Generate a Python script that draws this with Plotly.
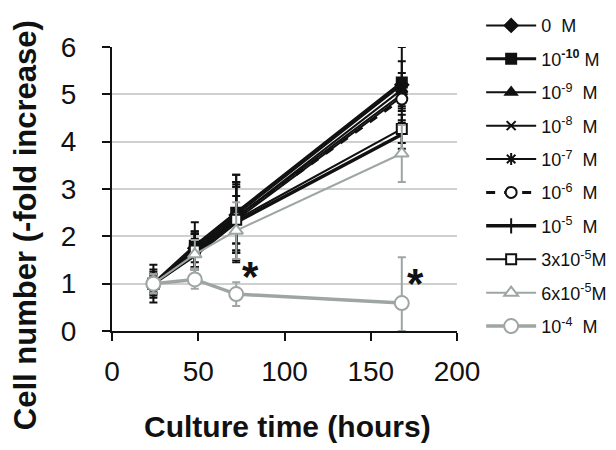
import plotly.graph_objects as go

hours = [24, 48, 72, 168]
names = ["0  M", "10<sup><b>-10</b></sup> M", "10<sup>-9</sup>  M", "10<sup>-8</sup>  M", "10<sup>-7</sup>  M",
         "10<sup>-6</sup>  M", "10<sup>-5</sup>  M", "3x10<sup>-5</sup>M", "6x10<sup>-5</sup>M", "10<sup>-4</sup>  M"]
values = [
    [1.0, 1.75, 2.45, 5.20],
    [1.0, 1.80, 2.50, 5.25],
    [1.0, 1.70, 2.40, 5.10],
    [1.0, 1.65, 2.35, 4.95],
    [1.0, 1.70, 2.40, 5.00],
    [1.0, 1.70, 2.40, 4.90],
    [1.0, 1.60, 2.30, 4.15],
    [1.0, 1.70, 2.35, 4.27],
    [1.0, 1.62, 2.12, 3.75],
    [1.0, 1.09, 0.78, 0.59],
]
errors_up = [
    [0.20, 0.30, 0.60, 0.50],
    [0.25, 0.50, 0.80, 0.75],
    [0.20, 0.35, 0.70, 0.35],
    [0.15, 0.30, 0.50, 0.30],
    [0.20, 0.40, 0.75, 0.30],
    [0.20, 0.35, 0.90, 0.25],
    [0.40, 0.50, 0.85, 0.30],
    [0.30, 0.40, 0.70, 0.30],
    [0.20, 0.30, 0.60, 0.60],
    [0.20, 0.20, 0.25, 0.97],
]
errors_down = [
    [0.20, 0.30, 0.60, 0.30],
    [0.25, 0.50, 0.80, 0.30],
    [0.20, 0.35, 0.70, 0.35],
    [0.15, 0.30, 0.50, 0.30],
    [0.20, 0.40, 0.75, 0.30],
    [0.20, 0.35, 0.90, 0.50],
    [0.40, 0.50, 0.85, 0.30],
    [0.30, 0.40, 0.70, 0.30],
    [0.20, 0.30, 0.60, 0.60],
    [0.20, 0.20, 0.25, 0.59],
]
y_ticks = [0, 1, 2, 3, 4, 5, 6]
x_ticks = [0, 50, 100, 150, 200]
stars = [(80, 1.16), (176, 1.0)]

BLACK = "#111111"
GRAY = "#9ea6a2"
FONT = "Liberation Sans"
styles = [
    dict(symbol="diamond", fill=BLACK, color=BLACK, width=2, dash="solid", size=10),
    dict(symbol="square", fill=BLACK, color=BLACK, width=3, dash="solid", size=10),
    dict(symbol="triangle-up", fill=BLACK, color=BLACK, width=2, dash="solid", size=10),
    dict(symbol="x-thin-open", fill=BLACK, color=BLACK, width=2, dash="solid", size=9),
    dict(symbol="asterisk-open", fill=BLACK, color=BLACK, width=2, dash="solid", size=10),
    dict(symbol="circle", fill="white", color=BLACK, width=3, dash="dash", size=11),
    dict(symbol="line-ns-open", fill=BLACK, color=BLACK, width=3.5, dash="solid", size=11),
    dict(symbol="square", fill="white", color=BLACK, width=2, dash="solid", size=10),
    dict(symbol="triangle-up", fill="white", color=GRAY, width=2, dash="solid", size=12),
    dict(symbol="circle", fill="white", color=GRAY, width=3.5, dash="solid", size=14),
]

fig = go.Figure()
for i, (nm, v, eu, ed, s) in enumerate(zip(names, values, errors_up, errors_down, styles)):
    fig.add_trace(go.Scatter(
        x=hours, y=v, name=nm, mode="lines+markers",
        legendgroup=f"g{i}",
        line=dict(color=s["color"], width=s["width"], dash=s["dash"]),
        marker=dict(symbol=s["symbol"], size=s["size"], color=s["fill"],
                    line=dict(color=s["color"], width=2)),
        error_y=dict(type="data", array=eu, arrayminus=ed, symmetric=False, visible=True,
                     color=BLACK if i < 8 else s["color"], thickness=2, width=4),
        cliponaxis=False,
    ))

for (sx, sy) in stars:
    fig.add_annotation(x=sx, y=sy, text="<b>*</b>", showarrow=False,
                       font=dict(size=42, color=BLACK, family=FONT))

fig.add_annotation(xref="paper", yref="paper", x=0.509, y=-0.338, yanchor="middle",
                   text="<b>Culture time (hours)</b>", showarrow=False,
                   font=dict(size=30, color=BLACK, family=FONT))
fig.add_annotation(xref="paper", yref="paper", x=-0.252, y=0.373, xanchor="center", yanchor="middle",
                   text="<b>Cell number (-fold increase)</b>", showarrow=False, textangle=-90,
                   font=dict(size=31, color=BLACK, family=FONT))

# page body has an 8px margin, so the figure is sized to fit the 616x450 window
fig.update_layout(
    width=608, height=442,
    margin=dict(l=104, r=159, t=39, b=119, autoexpand=False),
    paper_bgcolor="white", plot_bgcolor="white",
    font=dict(family=FONT, color=BLACK, size=28),
    legend=dict(x=1.07, y=1.14, xanchor="left", yanchor="top",
                font=dict(size=18, family=FONT),
                itemwidth=50, tracegroupgap=7, bgcolor="rgba(0,0,0,0)",
                maxheight=440),
    xaxis=dict(range=[0, 200], tickvals=x_ticks, showgrid=False, zeroline=False,
               showline=True, linecolor=BLACK, linewidth=2,
               ticks="outside", ticklen=8, tickwidth=2, tickcolor=BLACK,
               ticklabelstandoff=6),
    yaxis=dict(range=[0, 6], tickvals=y_ticks, showgrid=True, gridcolor="#d0d0d0", gridwidth=2,
               zeroline=False, showline=True, linecolor=BLACK, linewidth=2,
               ticks="outside", ticklen=8, tickwidth=2, tickcolor=BLACK,
               ticklabelstandoff=20),
)

fig.write_html("out.html")
